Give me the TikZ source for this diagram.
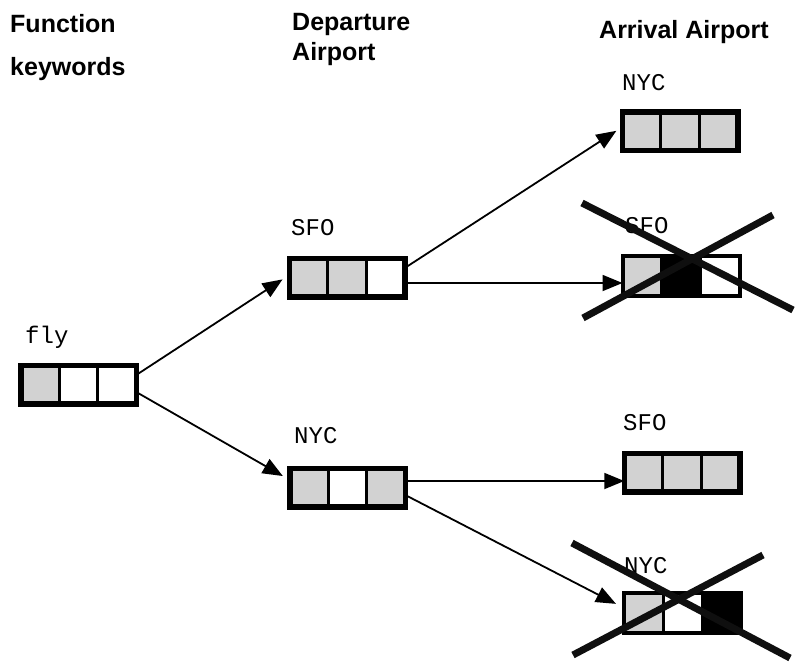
\documentclass[tikz,border=0pt]{standalone}
\usepackage{fontspec}
\setmainfont{Liberation Sans}
\newfontfamily\monofont{Liberation Mono}
\usetikzlibrary{arrows.meta,calc}
\definecolor{cellgray}{RGB}{210,210,210}
\definecolor{xcol}{RGB}{15,15,15}
\tikzset{
  boxcore/.style={minimum width={121pt-#1pt}, minimum height={44pt-#1pt}, inner sep=0pt, outer sep=0pt},
  head/.style={anchor=base west, inner sep=0pt, font=\fontsize{25}{25}\selectfont\bfseries},
  lab/.style={anchor=base west, inner sep=0pt, font=\fontsize{24}{24}\selectfont\monofont},
  arr/.style={line width=1.8pt, -{Triangle[length=20pt,width=16pt]}},
  crossline/.style={line width=7pt, draw=xcol}
}
\newcommand\tribox[7]{%
  \node[boxcore=#4] (#1) at (#2,#3) {};
  \fill[#5] (#1.south west) rectangle ($(#1.north west)!1/3!(#1.north east)$);
  \fill[#6] ($(#1.south west)!1/3!(#1.south east)$) rectangle ($(#1.north west)!2/3!(#1.north east)$);
  \fill[#7] ($(#1.south west)!2/3!(#1.south east)$) rectangle (#1.north east);
  \draw[line width=3pt] ($(#1.south west)!1/3!(#1.south east)$) -- ($(#1.north west)!1/3!(#1.north east)$);
  \draw[line width=3pt] ($(#1.south west)!2/3!(#1.south east)$) -- ($(#1.north west)!2/3!(#1.north east)$);
  \draw[line width=#4pt] (#1.south west) rectangle (#1.north east);
}
\begin{document}
\begin{tikzpicture}[x=1pt,y=-1pt]
\useasboundingbox[fill=white] (0,0) rectangle (795,664);

% headers
\node[head] (h1) at (10,32) {Function};
\node[head] (h2) at (10,75) {keywords};
\node[head] (h3) at (292,30) {Departure};
\node[head] (h4) at (292,60) {Airport};
\node[head] (h5) at (599,38) {Arrival Airport};

% boxes
\tribox{fly}{78.5}{384.5}{5.5}{cellgray}{white}{white}
\tribox{SFOd}{347}{277.5}{5.5}{cellgray}{cellgray}{white}
\tribox{NYCd}{347.5}{487.5}{5.5}{cellgray}{white}{cellgray}
\tribox{NYCa}{680}{131}{5.5}{cellgray}{cellgray}{cellgray}
\tribox{SFOx}{681}{275.5}{4}{cellgray}{black}{white}
\tribox{SFOa}{682}{472.5}{5.5}{cellgray}{cellgray}{cellgray}
\tribox{NYCx}{682.5}{612.5}{4}{cellgray}{white}{black}

% labels
\node[lab] (lfly) at (25,343) {fly};
\node[lab] (lSFOd) at (291,235) {SFO};
\node[lab] (lNYCd) at (294,443) {NYC};
\node[lab] (lNYCa) at (622,90) {NYC};
\node[lab] (lSFOx) at (625,233) {SFO};
\node[lab] (lSFOa) at (623,430) {SFO};
\node[lab] (lNYCx) at (624,573) {NYC};

% arrows
\draw[arr, shorten >=8pt] ([yshift=9.5pt]fly.east) -- ([yshift=2.5pt]SFOd.west);
\draw[arr, shorten >=8pt] ([yshift=-7.5pt]fly.east) -- ([yshift=7.5pt]NYCd.west);
\draw[arr, shorten >=7pt] ([yshift=9.5pt]SFOd.east) -- ([yshift=4pt]NYCa.west);
\draw[arr] ([yshift=-5.5pt]SFOd.east) -- ([yshift=-5.5pt]SFOd.east -| SFOx.west);
\draw[arr] ([yshift=6.5pt]NYCd.east) -- ([yshift=6.5pt]NYCd.east -| SFOa.west);
\draw[arr, shorten >=9pt] ([yshift=-7.5pt]NYCd.east) -- ([yshift=4.5pt]NYCx.west);

% crosses
\coordinate (xa1) at (582,203);
\coordinate (xa2) at (793,310);
\coordinate (xa3) at (583,318);
\coordinate (xa4) at (773,215);
\coordinate (xb1) at (572,543);
\coordinate (xb2) at (790,658);
\coordinate (xb3) at (573,655);
\coordinate (xb4) at (763,555);
\draw[crossline] (xa1) -- (xa2);
\draw[crossline] (xa3) -- (xa4);
\draw[crossline] (xb1) -- (xb2);
\draw[crossline] (xb3) -- (xb4);
\end{tikzpicture}
\end{document}
